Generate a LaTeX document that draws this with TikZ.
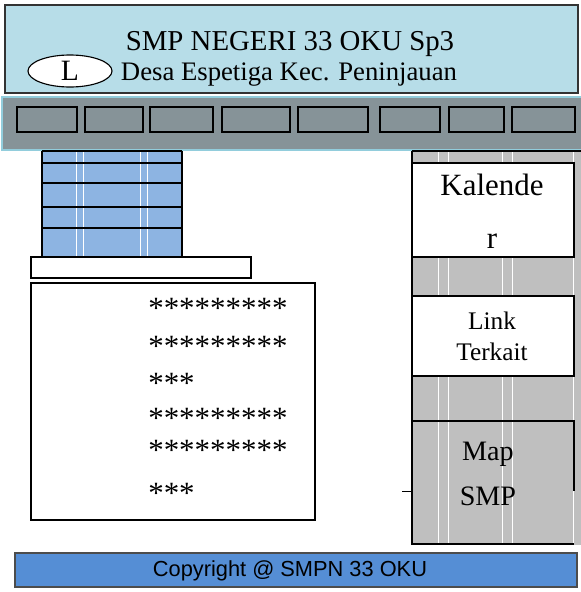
\documentclass[tikz,border=0pt]{standalone}
\usepackage{fontspec}
\setmainfont{Liberation Serif}
\newfontfamily\footfont{Liberation Sans}
\usetikzlibrary{positioning,shapes.geometric}
\definecolor{HeadBlue}{RGB}{183,221,232}
\definecolor{NavGray}{RGB}{134,147,152}
\definecolor{NavEdge}{RGB}{146,205,220}
\definecolor{StackBlue}{RGB}{141,180,226}
\definecolor{SideGray}{RGB}{191,191,191}
\definecolor{FootBlue}{RGB}{85,142,213}

\begin{document}
\begin{tikzpicture}[x=0.025cm, y=-0.025cm,
		frame/.style={draw=black, line width=1.8pt},
		btn/.style={draw=black, line width=1.5pt},
		gridline/.style={white, line width=0.6pt},
		stars/.style={font=\fontsize{22}{24}\selectfont, anchor=base west, inner sep=0pt},
		side/.style={align=center, anchor=base, inner sep=0pt}
		]
		\useasboundingbox (0,0) rectangle (580,592);
		
		% ===== header =====
		\draw[fill=HeadBlue, draw=black!80, line width=0.8pt] (5,5) rectangle (578,93);
		\node[font=\fontsize{20.5}{24}\selectfont, anchor=base] (title) at (290,50) {SMP NEGERI 33 OKU Sp3};
		\node[font=\fontsize{19}{22}\selectfont, anchor=base] (addr) at (289,80) {Desa Espetiga Kec. Peninjauan};
		\node[draw, ellipse, fill=white, inner sep=0pt, minimum width=2.1cm, minimum height=0.8cm,
		line width=0.8pt, font=\fontsize{21}{22}\selectfont] (logo) at (70,71) {L};
		
		% ===== menu bar =====
		\draw[fill=NavGray, draw=NavEdge, line width=1.5pt] (2,97) rectangle (582,150);
		\foreach \l/\r [count=\i from 1] in {17/77,85/143,150/213,222/290,298/368,380/440,449/504,512/575}{
			\draw[btn] (\l,107) rectangle (\r,132);
		}
		
		% ===== left stack =====
		\fill[StackBlue] (42,151) rectangle (182,257);
		\foreach \x in {76,83,140,147}
		\draw[gridline] (\x,151) -- (\x,257);
		\foreach \y in {151,163,183,207,228}
		\draw[frame] (42,\y) -- (182,\y);
		\draw[frame] (42,151) -- (42,257);
		\draw[frame] (182,151) -- (182,257);
		
		\draw[frame, fill=white] (31,257) rectangle (251,278);
		
		% ===== content =====
		\draw[frame] (31,283) rectangle (315,520);
		\foreach \s/\y [count=\i from 1] in {*********/318,*********/356,***/393,*********/428,*********/460,***/503}{
			\node[stars] (row\i) at (148,\y) {\s};
		}
		
		% ===== right column =====
		\fill[SideGray] (412,151) rectangle (582,545);
		\foreach \x in {438,448,502,512,573}
		\draw[gridline] (\x,151) -- (\x,545);
		\draw[frame] (412,151) -- (582,151);
		\draw[frame] (412,151) -- (412,545);
		
		\draw[frame, fill=white] (412,163) rectangle (574,257);
		\node[side, font=\fontsize{22}{37.5}\selectfont] (kal) at (492,248) {Kalende\\r};
		
		\draw[frame, fill=white] (412,296) rectangle (574,376);
		\node[side, font=\fontsize{18}{21.5}\selectfont] (link) at (492,360) {Link\\Terkait};
		
		\draw[frame] (574,491) -- (574,421) -- (412,421);
		\draw[frame] (412,544) -- (574,544);
		\draw[black, line width=0.6pt] (402,491) -- (412,491);
		\node[side, font=\fontsize{20}{32}\selectfont] (map) at (488,505) {Map\\SMP};
		
		% ===== footer =====
		\draw[fill=FootBlue, draw=black!70, line width=0.8pt] (15,553) rectangle (577,587);
		\node[font=\footfont\fontsize{15.5}{18}\selectfont] (copy) at (290,571) {Copyright @ SMPN 33 OKU};
		
	\end{tikzpicture}
\end{document}
